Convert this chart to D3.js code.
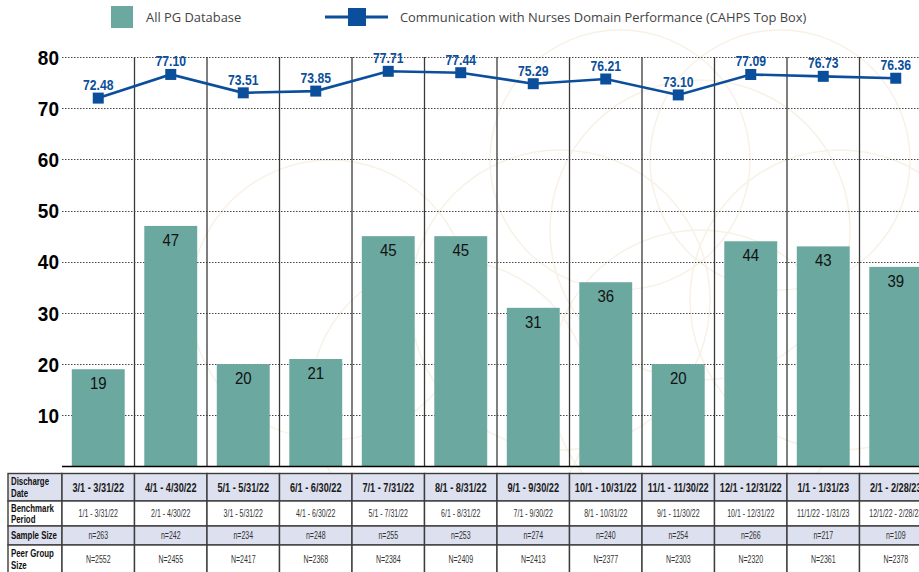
<!DOCTYPE html>
<html>
<head>
<meta charset="utf-8">
<script src="https://cdn.jsdelivr.net/npm/d3@7"></script>
<style>
  html, body { margin: 0; padding: 0; background: #fff; }
  svg { display: block; }
</style>
</head>
<body>
<svg id="chart" width="919" height="572"></svg>
<script>
// Monthly discharge periods
const categories = ["3/1 - 3/31/22", "4/1 - 4/30/22", "5/1 - 5/31/22", "6/1 - 6/30/22",
  "7/1 - 7/31/22", "8/1 - 8/31/22", "9/1 - 9/30/22", "10/1 - 10/31/22",
  "11/1 - 11/30/22", "12/1 - 12/31/22", "1/1 - 1/31/23", "2/1 - 2/28/23"];
// Percentile rank against all PG database (bars)
const pgDatabase = [19, 47, 20, 21, 45, 45, 31, 36, 20, 44, 43, 39];
// Communication with Nurses top-box score (line)
const nurseScore = [72.48, 77.10, 73.51, 73.85, 77.71, 77.44, 75.29, 76.21, 73.10, 77.09, 76.73, 76.36];
// Table rows beneath the chart
const benchmarkPeriods = ["1/1 - 3/31/22", "2/1 - 4/30/22", "3/1 - 5/31/22", "4/1 - 6/30/22",
  "5/1 - 7/31/22", "6/1 - 8/31/22", "7/1 - 9/30/22", "8/1 - 10/31/22",
  "9/1 - 11/30/22", "10/1 - 12/31/22", "11/1/22 - 1/31/23", "12/1/22 - 2/28/23"];
const sampleSizes = [263, 242, 234, 248, 255, 253, 274, 240, 254, 266, 217, 109];
const peerGroupSizes = [2552, 2455, 2417, 2368, 2384, 2409, 2413, 2377, 2303, 2320, 2361, 2378];
const yTicks = [10, 20, 30, 40, 50, 60, 70, 80];
const seriesNames = ["All PG Database", "Communication with Nurses Domain Performance (CAHPS Top Box)"];

const W = 919, H = 572;
const BAR = "#6ba89f", LINE = "#0b4f9c", BAND = "#dde0ee";
const SANS = "'Liberation Sans', Arial, sans-serif";

// narrow text horizontally about its anchor x
function squeeze(sel, ratio) {
  sel.each(function () {
    const ax = +this.getAttribute("x") || 0;
    this.setAttribute("transform", `translate(${ax},0) scale(${ratio},1) translate(${-ax},0)`);
  });
}

const svg = d3.select("#chart");

// faint decorative rings in the background
const deco = svg.append("g").attr("fill", "none").attr("stroke", "#f8f1e6").attr("stroke-width", 1.5);
[[700, 230, 150], [560, 300, 150], [840, 300, 150], [700, 380, 150], [620, 160, 130], [780, 160, 130],
 [450, 400, 140], [330, 300, 140]].forEach(([cx, cy, r]) => {
  deco.append("circle").attr("cx", cx).attr("cy", cy).attr("r", r);
});

const x = d3.scaleBand().domain(categories).range([62, 932]).paddingInner(0.27).paddingOuter(0.135);
const y = d3.scaleLinear().domain([0, 80]).range([466.5, 57]);
// the score line sits on its own 0-80 axis, drawn a few pixels lower
const yLine = d3.scaleLinear().domain([0, 80]).range([469.2, 59.6]);
const step = x.step();
const colLeft = d => x(d) - (step - x.bandwidth()) / 2;
const mid = i => x(categories[i]) + x.bandwidth() / 2;

// dotted horizontal grid
svg.append("g").selectAll("line").data(yTicks).join("line")
  .attr("x1", 62).attr("x2", W)
  .attr("y1", d => Math.round(y(d)) + 0.5).attr("y2", d => Math.round(y(d)) + 0.5)
  .attr("stroke", "#444").attr("stroke-width", 1).attr("stroke-dasharray", "1.5,1.5");

// y axis labels
const yAxis = d3.axisLeft(y).tickValues(yTicks).tickSize(0).tickPadding(0).tickFormat(d3.format("d"));
const yg = svg.append("g").attr("transform", "translate(59,0)").call(yAxis);
yg.select(".domain").remove();
yg.selectAll("text")
  .attr("font-family", SANS).attr("font-weight", "bold")
  .attr("font-size", 20).attr("fill", "#000").attr("dy", "0.36em")
  .call(squeeze, 0.95);

// column dividers
svg.append("g").selectAll("line").data(categories.slice(1)).join("line")
  .attr("x1", d => colLeft(d)).attr("x2", d => colLeft(d))
  .attr("y1", y(80)).attr("y2", y(0))
  .attr("stroke", "#3a3a3a").attr("stroke-width", 1.3);

// bars
svg.append("g").selectAll("rect").data(pgDatabase).join("rect")
  .attr("x", (d, i) => x(categories[i])).attr("width", x.bandwidth())
  .attr("y", d => y(d)).attr("height", d => y(0) - y(d))
  .attr("fill", BAR);

// bar value labels
svg.append("g").selectAll("text").data(pgDatabase).join("text")
  .attr("x", (d, i) => mid(i))
  .attr("y", d => y(d) + 20)
  .attr("text-anchor", "middle")
  .attr("font-family", SANS).attr("font-size", 17).attr("fill", "#111")
  .text(d => d)
  .call(squeeze, 0.88);

// baseline
svg.append("line").attr("x1", 62).attr("x2", W).attr("y1", y(0)).attr("y2", y(0))
  .attr("stroke", "#000").attr("stroke-width", 1.5);

// line series
svg.append("path").datum(nurseScore)
  .attr("fill", "none").attr("stroke", LINE).attr("stroke-width", 2.6)
  .attr("d", d3.line().x((d, i) => mid(i)).y(d => yLine(d)));
svg.append("g").selectAll("rect").data(nurseScore).join("rect")
  .attr("x", (d, i) => mid(i) - 5.5).attr("y", d => yLine(d) - 5.5)
  .attr("width", 11).attr("height", 11).attr("fill", LINE);
svg.append("g").selectAll("text").data(nurseScore).join("text")
  .attr("x", (d, i) => mid(i)).attr("y", d => yLine(d) - 8)
  .attr("text-anchor", "middle")
  .attr("font-family", SANS).attr("font-weight", "bold").attr("font-size", 14.5).attr("fill", LINE)
  .text(d => d.toFixed(2))
  .call(squeeze, 0.84);

// legend
const lg = svg.append("g");
lg.append("rect").attr("x", 111).attr("y", 6).attr("width", 22).attr("height", 22).attr("fill", BAR);
lg.append("text").attr("x", 146).attr("y", 22).text(seriesNames[0]);
lg.append("line").attr("x1", 325).attr("x2", 388).attr("y1", 17).attr("y2", 17)
  .attr("stroke", LINE).attr("stroke-width", 3);
lg.append("rect").attr("x", 348).attr("y", 8).attr("width", 18).attr("height", 18).attr("fill", LINE);
lg.append("text").attr("x", 400).attr("y", 22).text(seriesNames[1]);
lg.selectAll("text").attr("font-family", "'Open Sans', sans-serif").attr("font-size", 12.9).attr("fill", "#444");

// table
const rows = [
  { label: ["Discharge", "Date"], values: categories, h: 27.5, fill: BAND, head: true },
  { label: ["Benchmark", "Period"], values: benchmarkPeriods, h: 25, fill: "#fff" },
  { label: ["Sample Size"], values: sampleSizes.map(v => "n=" + v), h: 19, fill: BAND },
  { label: ["Peer Group", "Size"], values: peerGroupSizes.map(v => "N=" + v), h: 28, fill: "#fff" }
];
const tg = svg.append("g");
let ty = 473.5;
rows.forEach(r => {
  // label cell
  tg.append("rect").attr("x", 8).attr("y", ty).attr("width", 54).attr("height", r.h)
    .attr("fill", r.fill).attr("stroke", "#3c3c3c").attr("stroke-width", 1.4);
  const n = r.label.length;
  tg.append("g").selectAll("text").data(r.label).join("text")
    .attr("x", 11)
    .attr("y", (s, k) => ty + r.h / 2 + 3.8 + (k - (n - 1) / 2) * 11.5)
    .attr("font-family", SANS).attr("font-weight", "bold").attr("font-size", 10.8).attr("fill", "#111")
    .text(s => s)
    .call(squeeze, 0.73);
  // value cells
  tg.append("g").selectAll("rect").data(categories).join("rect")
    .attr("x", d => colLeft(d)).attr("y", ty).attr("width", step).attr("height", r.h)
    .attr("fill", r.fill).attr("stroke", "#3c3c3c").attr("stroke-width", 1.4);
  tg.append("g").selectAll("text").data(r.values).join("text")
    .attr("x", (d, i) => mid(i))
    .attr("y", ty + r.h / 2 + (r.head ? 4.6 : 3.6))
    .attr("text-anchor", "middle")
    .attr("font-family", SANS)
    .attr("font-weight", r.head ? "bold" : "normal")
    .attr("font-size", r.head ? 12.8 : 10)
    .attr("fill", r.head ? "#1a1a1a" : "#333")
    .text(d => d)
    .call(squeeze, r.head ? 0.72 : 0.7);
  ty += r.h;
});
</script>
</body>
</html>
